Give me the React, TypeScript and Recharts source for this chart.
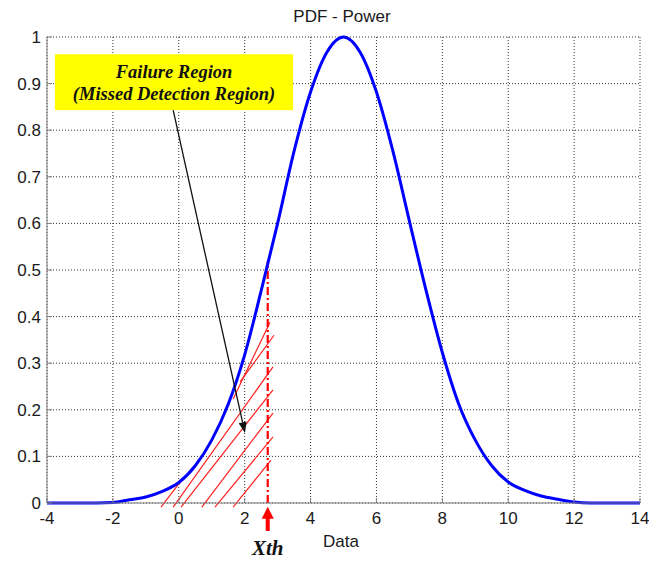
import React from 'react';
import {
    LineChart,
    Line,
    XAxis,
    YAxis,
    CartesianGrid,
    ReferenceLine,
    ReferenceArea
} from 'recharts';

// curve, 0.5 step
const dataX = [
    -4, -3.5, -3, -2.5, -2, -1.5, -1, -0.5, 0, 0.5, 1, 1.5, 2, 2.5, 3, 3.5, 4, 4.5, 5,
    5.5, 6, 6.5, 7, 7.5, 8, 8.5, 9, 9.5, 10, 10.5, 11, 11.5, 12, 12.5, 13, 13.5, 14
];
const pdfPower = [
    0, 0, 0, 0, 0.001, 0.007, 0.013, 0.025, 0.044, 0.08, 0.135, 0.212, 0.318, 0.455, 0.6, 0.755, 0.882, 0.968, 1.0,
    0.968, 0.882, 0.755, 0.605, 0.458, 0.323, 0.212, 0.135, 0.08, 0.045, 0.027, 0.015, 0.008, 0.002, 0, 0, 0, 0
];

const xTicks = [-4, -2, 0, 2, 4, 6, 8, 10, 12, 14];
const yTicks = [0, 0.1, 0.2, 0.3, 0.4, 0.5, 0.6, 0.7, 0.8, 0.9, 1];

const chartTitle = 'PDF - Power';
const xLabel = 'Data';
const boxLines = ['Failure Region', '(Missed Detection Region)'];
const thresholdLabel = 'Xth';

const xth = 2.7;
const xthValue = 0.52;

// annotation box and pointer, in data units
const boxCorners = { x1: -3.76, x2: 3.47, y1: 0.843, y2: 0.963 };
const pointer = [{ x: -0.17, y: 0.843 }, { x: 2.01, y: 0.15 }];

// hand drawn hatch strokes, in data units
const hatchStrokes = [
    [{ x: -0.54, y: -0.009 }, { x: 0.04, y: 0.045 }],
    [{ x: -0.17, y: -0.009 }, { x: 2.86, y: 0.292 }],
    [{ x: 0.07, y: -0.009 }, { x: 2.86, y: 0.243 }],
    [{ x: 0.7, y: -0.009 }, { x: 2.86, y: 0.193 }],
    [{ x: 1.1, y: -0.009 }, { x: 2.86, y: 0.142 }],
    [{ x: 1.65, y: -0.009 }, { x: 2.8, y: 0.092 }],
    [{ x: 1.65, y: 0.223 }, { x: 2.77, y: 0.388 }],
    [{ x: 1.86, y: 0.26 }, { x: 2.89, y: 0.36 }]
];

const data = dataX.map((x, i) => ({ x, y: pdfPower[i] }));

const serif = '"Liberation Serif", "Times New Roman", serif';

const noTick = () => <g />;

function BoxShape(props: any) {
    const { x, y, width, height } = props;
    const cx = x + width / 2;
    return (
        <g>
            <rect x={x} y={y} width={width} height={height} fill="#ffff00" />
            <text x={cx} y={y + 23.5} textAnchor="middle" fontFamily={serif} fontStyle="italic"
                fontWeight="bold" fontSize={18.5} fill="#111">{boxLines[0]}</text>
            <text x={cx} y={y + 46} textAnchor="middle" fontFamily={serif} fontStyle="italic"
                fontWeight="bold" fontSize={18.5} fill="#111">{boxLines[1]}</text>
        </g>
    );
}

function PointerShape(props: any) {
    const { x1, y1, x2, y2 } = props;
    const ang = Math.atan2(y2 - y1, x2 - x1);
    const len = 11;
    const half = 4;
    const bx = x2 - len * Math.cos(ang);
    const by = y2 - len * Math.sin(ang);
    const px = -Math.sin(ang) * half;
    const py = Math.cos(ang) * half;
    return (
        <g>
            <line x1={x1} y1={y1} x2={bx} y2={by} stroke="#111" strokeWidth={1.3} />
            <polygon points={`${x2},${y2} ${bx + px},${by + py} ${bx - px},${by - py}`} fill="#111" />
        </g>
    );
}

function XthArrow(props: any) {
    const { x1, y1, x2, y2 } = props;
    const bottom = Math.max(y1, y2);
    const tip = Math.min(y1, y2);
    return (
        <g>
            <line x1={x1} y1={bottom} x2={x1} y2={tip + 10} stroke="#ff0000" strokeWidth={4} />
            <polygon points={`${x1},${tip} ${x1 - 6},${tip + 12} ${x1 + 6},${tip + 12}`} fill="#ff0000" />
            <text x={x1} y={bottom + 24} textAnchor="middle" fontFamily={serif} fontStyle="italic"
                fontWeight="bold" fontSize={21} fill="#111">{thresholdLabel}</text>
        </g>
    );
}

const textStyle: React.CSSProperties = {
    position: 'absolute',
    width: 200,
    textAlign: 'center',
    fontSize: 17,
    lineHeight: '17px',
    color: '#1a1a1a'
};

export default function App() {
    return (
        <div
            style={{
                position: 'absolute',
                left: 0,
                top: 0,
                width: 649,
                height: 561,
                background: '#ffffff',
                fontFamily: '"Liberation Sans", Arial, sans-serif'
            }}
        >
            <LineChart width={649} height={561} data={data} margin={{ top: 37, right: 9, bottom: 28, left: 7 }}>
                <CartesianGrid stroke="#333333" strokeDasharray="1 2" />
                <XAxis
                    dataKey="x"
                    type="number"
                    domain={[-4, 14]}
                    ticks={xTicks}
                    height={30}
                    stroke="#808080"
                    tickSize={-5}
                    tickMargin={14}
                    tick={{ fill: '#1a1a1a', fontSize: 17 }}
                />
                <XAxis
                    xAxisId="top"
                    orientation="top"
                    type="number"
                    domain={[-4, 14]}
                    ticks={xTicks}
                    height={0}
                    stroke="#808080"
                    tickSize={-5}
                    tick={noTick}
                />
                <YAxis
                    type="number"
                    domain={[0, 1]}
                    ticks={yTicks}
                    width={40}
                    stroke="#808080"
                    tickSize={-5}
                    tickMargin={11}
                    tick={{ fill: '#1a1a1a', fontSize: 17 }}
                />
                <YAxis
                    yAxisId="right"
                    orientation="right"
                    type="number"
                    domain={[0, 1]}
                    ticks={yTicks}
                    width={0}
                    stroke="#808080"
                    tickSize={-5}
                    tick={noTick}
                />
                <ReferenceArea
                    x1={boxCorners.x1}
                    x2={boxCorners.x2}
                    y1={boxCorners.y1}
                    y2={boxCorners.y2}
                    ifOverflow="visible"
                    shape={<BoxShape />}
                />
                {hatchStrokes.map((seg, i) => (
                    <ReferenceLine
                        key={i}
                        segment={seg}
                        stroke="#ff2020"
                        strokeWidth={1.2}
                        ifOverflow="visible"
                    />
                ))}
                <ReferenceLine
                    segment={[{ x: xth, y: 0 }, { x: xth, y: xthValue }]}
                    stroke="#ff0000"
                    strokeWidth={2.2}
                    strokeDasharray="8 3 2 3"
                />
                <ReferenceLine
                    segment={[{ x: xth, y: -0.06 }, { x: xth, y: -0.008 }]}
                    ifOverflow="visible"
                    shape={(p: any) => <XthArrow {...p} />}
                />
                <Line
                    type="monotone"
                    dataKey="y"
                    stroke="#0000ff"
                    strokeWidth={3}
                    dot={false}
                    isAnimationActive={false}
                />
                <ReferenceLine
                    segment={pointer}
                    ifOverflow="visible"
                    shape={(p: any) => <PointerShape {...p} />}
                />
            </LineChart>
            <div style={{ ...textStyle, left: 242, top: 8 }}>{chartTitle}</div>
            <div style={{ ...textStyle, left: 241, top: 533 }}>{xLabel}</div>
        </div>
    );
}
